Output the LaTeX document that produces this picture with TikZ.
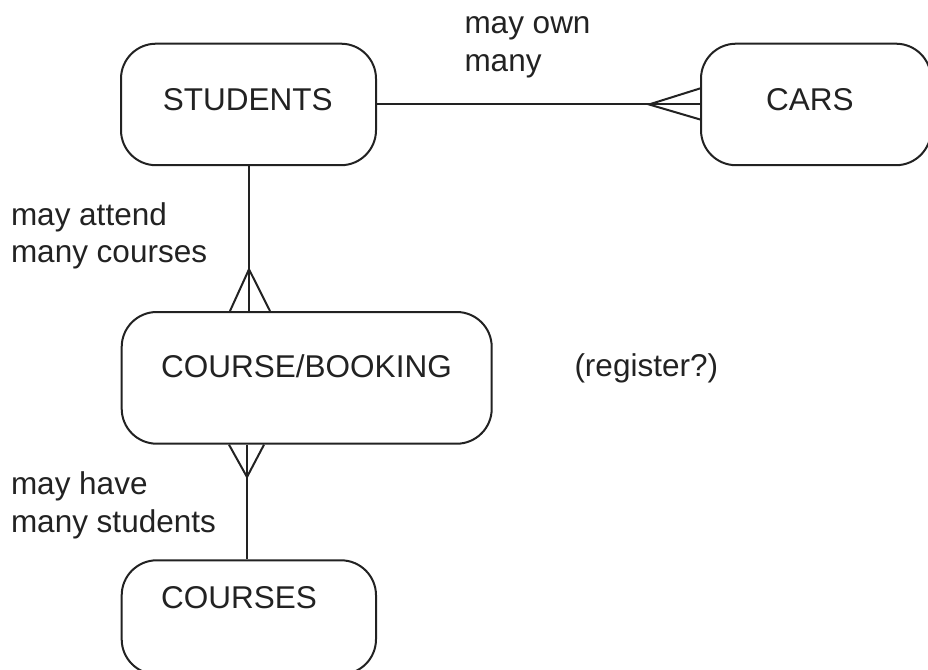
\documentclass[tikz,border=0pt]{standalone}
\usepackage{fontspec}
\setmainfont{Liberation Sans}
\usetikzlibrary{calc}
\definecolor{ink}{HTML}{222222}
\begin{document}
\begin{tikzpicture}[x=1pt,y=-1pt,line width=2pt,
  ent/.style={draw=ink, rounded corners=35pt, inner sep=0pt, anchor=north west},
  txt/.style={font=\fontsize{31.5}{38}\selectfont, text=ink, inner sep=0pt, anchor=base west},
  conn/.style={draw=ink, line width=2pt}]
\useasboundingbox (0,0) rectangle (928,669);
\begin{scope}
\clip (0,0) rectangle (928,669);
% entities
\node[ent, minimum width=255pt, minimum height=121.5pt] (stud) at (120,42.7) {};
\node[ent, minimum width=230pt, minimum height=121.5pt] (cars) at (700,42.7) {};
\node[ent, minimum width=370pt, minimum height=131.7pt] (cb) at (120.7,311) {};
\node[ent, minimum width=254.3pt, minimum height=114pt] (crs) at (120.7,559.3) {};
\end{scope}
% entity texts
\node[txt] (tstud) at (161.8,110) {STUDENTS};
\node[txt] (tcars) at (765.2,110) {CARS};
\node[txt] (tcb) at (160.2,377.7) {COURSE/BOOKING};
\node[txt] (tcrs) at (160.2,608.3) {COURSES};
% labels
\node[txt] (l1a) at (463.5,33.3) {may own};
\node[txt] (l1b) at (463.5,71.7) {many};
\node[txt] (l2a) at (10,225) {may attend};
\node[txt] (l2b) at (10,262.7) {many courses};
\node[txt] (l3) at (573.5,376.7) {(register?)};
\node[txt] (l4a) at (10,494.3) {may have};
\node[txt] (l4b) at (10,532.3) {many students};
% STUDENTS -- CARS (many at CARS)
\draw[conn] (stud.east) -- (cars.west);
\draw[conn] ($(cars.west)+(0,-16)$) -- ($(cars.west)+(-51,0)$) -- ($(cars.west)+(0,15)$);
% STUDENTS -- COURSE/BOOKING (many at COURSE/BOOKING)
\draw[conn] (249,0 |- stud.south) -- (249,0 |- cb.north);
\draw[conn] (230,0 |- cb.north) -- (249,269.3) -- (270,0 |- cb.north);
% COURSE/BOOKING -- COURSES (many at COURSE/BOOKING)
\draw[conn] (247,0 |- cb.south) -- (247,0 |- crs.north);
\draw[conn] (229,0 |- cb.south) -- (247,477) -- (264,0 |- cb.south);
\end{tikzpicture}
\end{document}
